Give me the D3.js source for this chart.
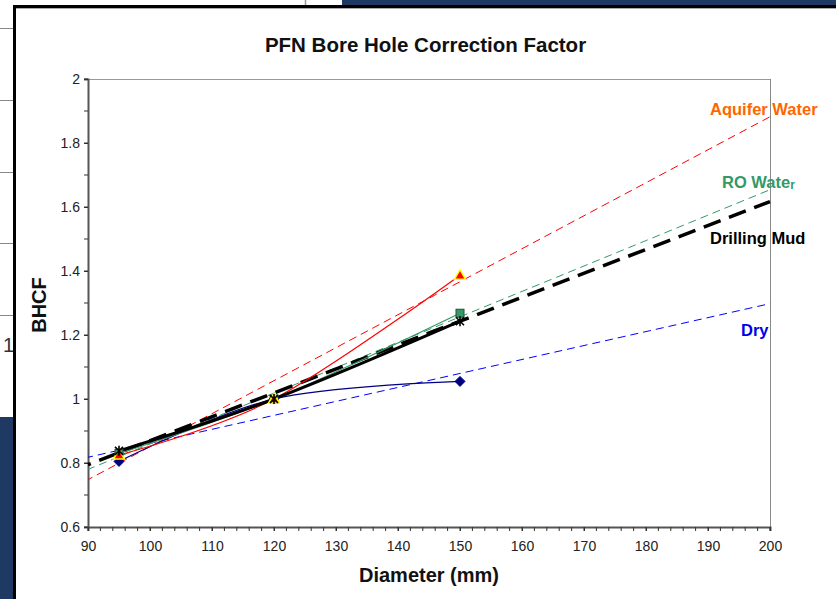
<!DOCTYPE html>
<html>
<head>
<meta charset="utf-8">
<script src="https://cdn.jsdelivr.net/npm/d3@7"></script>
<style>
html,body{margin:0;padding:0;background:#fff;}
svg{display:block;font-family:"Liberation Sans",Arial,sans-serif;}
</style>
</head>
<body>
<svg id="chart" width="836" height="599"></svg>
<script>
// ---- data ----
const diameters = [95, 120, 150];
const dryValues = [0.805, 1.0, 1.055];
const aquiferValues = [0.825, 1.0, 1.387];
const roValues = [0.83, 1.0, 1.268];
const mudValues = [0.838, 1.0, 1.243];
// trendline end points at trendX
const trendX = [90, 200];
const dryTrend = [0.818, 1.298];
const aquiferTrend = [0.748, 1.882];
const roTrend = [0.78, 1.654];
const mudTrend = [0.795, 1.617];
const xTicks = [90, 100, 110, 120, 130, 140, 150, 160, 170, 180, 190, 200];
const xTickLabels = ["90","100","110","120","130","140","150","160","170","180","190","200"];
const yTicks = [0.6, 0.8, 1.0, 1.2, 1.4, 1.6, 1.8, 2.0];
const yTickLabels = ["0.6","0.8","1","1.2","1.4","1.6","1.8","2"];
const seriesNames = ["Dry", "Aquifer Water", "RO Water", "Drilling Mud"];

const svg = d3.select("#chart");
const navy = "#1e3a62";

// ---- background slide decorations ----
svg.append("rect").attr("x",342).attr("y",0).attr("width",494).attr("height",6).attr("fill",navy);
svg.append("line").attr("x1",305.5).attr("x2",305.5).attr("y1",0).attr("y2",6).attr("stroke","#999").attr("stroke-width",1.5);
[28,100,172,243,315].forEach(y=>{
  svg.append("line").attr("x1",0).attr("x2",13).attr("y1",y+0.5).attr("y2",y+0.5).attr("stroke","#888").attr("stroke-width",1);
});
svg.append("text").attr("x",3).attr("y",352).attr("font-size",20).attr("fill","#333").text("1");
svg.append("rect").attr("x",0).attr("y",417).attr("width",14).attr("height",182).attr("fill",navy);
// frame
svg.append("rect").attr("x",13).attr("y",5).attr("width",823).attr("height",3).attr("fill","#000");
svg.append("rect").attr("x",13).attr("y",5).attr("width",3).attr("height",594).attr("fill","#000");
svg.append("line").attr("x1",16).attr("x2",836).attr("y1",8.5).attr("y2",8.5).attr("stroke","#aaa").attr("stroke-width",1);

// ---- scales ----
const x = d3.scaleLinear().domain([90, 200]).range([88, 770]);
const y = d3.scaleLinear().domain([0.6, 2]).range([527, 79]);

// plot frame top/right
svg.append("line").attr("x1",x(90)).attr("x2",x(200)).attr("y1",y(2)+0.5).attr("y2",y(2)+0.5).attr("stroke","#999").attr("stroke-width",1);
svg.append("line").attr("x1",x(200)+0.5).attr("x2",x(200)+0.5).attr("y1",y(2)).attr("y2",y(0.6)).attr("stroke","#888").attr("stroke-width",1);

// ---- axes ----
const minorY = d3.range(6, 21).map(v => v / 10);
const minorX = d3.range(90, 201, 2);
const gY = svg.append("g").attr("transform",`translate(${x(90)},0)`)
  .call(d3.axisLeft(y).tickValues(yTicks).tickSize(4).tickPadding(4)
    .tickFormat((d,i)=>yTickLabels[i]));
gY.append("g").selectAll("line").data(minorY).join("line")
  .attr("x1",-4).attr("x2",0).attr("y1",d=>y(d)).attr("y2",d=>y(d)).attr("stroke","#333");
const gX = svg.append("g").attr("transform",`translate(0,${y(0.6)})`)
  .call(d3.axisBottom(x).tickValues(xTicks).tickSize(4).tickPadding(10)
    .tickFormat((d,i)=>xTickLabels[i]));
gX.append("g").selectAll("line").data(minorX).join("line")
  .attr("x1",d=>x(d)).attr("x2",d=>x(d)).attr("y1",0).attr("y2",4).attr("stroke","#333");
[gX, gY].forEach(g=>{
  g.select(".domain").attr("stroke","#555").attr("stroke-width",2);
  g.selectAll(".tick line").attr("stroke","#333");
  g.selectAll(".tick text").attr("font-size",14).attr("fill","#222")
    .attr("font-family","Liberation Sans, Arial, sans-serif");
});

// ---- trendlines ----
const trendLine = d3.line().x(d=>x(d[0])).y(d=>y(d[1]));
function drawTrend(vals, color, w, dash, offset){
  svg.append("path").datum(trendX.map((v,i)=>[v, vals[i]]))
    .attr("d", trendLine).attr("fill","none").attr("stroke",color)
    .attr("stroke-width",w).attr("stroke-dasharray",dash)
    .attr("stroke-dashoffset",offset || 0);
}
drawTrend(dryTrend, "#0000ff", 1, "8,5", 3);
drawTrend(aquiferTrend, "#ff0000", 1, "8,5", 3);
drawTrend(roTrend, "#339966", 1, "8,5", 1);
drawTrend(mudTrend, "#000000", 3.5, "18,9", 15);

// ---- smoothed data lines ----
const smooth = d3.line().x(d=>x(d[0])).y(d=>y(d[1])).curve(d3.curveCardinal.tension(0));
function drawSeries(vals, color, w){
  svg.append("path").datum(diameters.map((v,i)=>[v, vals[i]]))
    .attr("d", smooth).attr("fill","none").attr("stroke",color).attr("stroke-width",w);
}
drawSeries(dryValues, "#000080", 1.2);
drawSeries(roValues, "#339966", 1.2);
drawSeries(aquiferValues, "#ff0000", 1.2);
drawSeries(mudValues, "#000000", 3);

// ---- markers ----
const pts = vals => diameters.map((v,i)=>[x(v), y(vals[i])]);
svg.append("g").selectAll("path").data(pts(dryValues)).join("path")
  .attr("d","M0,-5L5,0L0,5L-5,0Z").attr("transform",d=>`translate(${d[0]},${d[1]})`)
  .attr("fill","#000080").attr("stroke","#000080");
svg.append("g").selectAll("rect").data(pts(roValues)).join("rect")
  .attr("x",d=>d[0]-4).attr("y",d=>d[1]-4).attr("width",8).attr("height",8)
  .attr("fill","#339966").attr("stroke","#2a4a3a").attr("stroke-width",1);
svg.append("g").selectAll("path").data(pts(aquiferValues)).join("path")
  .attr("d","M0,-5.5L5.5,4L-5.5,4Z").attr("transform",d=>`translate(${d[0]},${d[1]})`)
  .attr("fill","#ff0000").attr("stroke","#ffff00").attr("stroke-width",1.5);
svg.append("g").selectAll("path").data(pts(mudValues)).join("path")
  .attr("d","M-4,-4L4,4M-4,4L4,-4M0,-5L0,5").attr("transform",d=>`translate(${d[0]},${d[1]})`)
  .attr("fill","none").attr("stroke","#000").attr("stroke-width",1.6);

// ---- texts ----
svg.append("text").attr("x",425.5).attr("y",52).attr("text-anchor","middle")
  .attr("font-size",20.5).attr("font-weight","bold").attr("fill","#111")
  .text("PFN Bore Hole Correction Factor");
svg.append("text").attr("x",429).attr("y",582).attr("text-anchor","middle")
  .attr("font-size",20).attr("font-weight","bold").attr("fill","#111")
  .text("Diameter (mm)");
svg.append("text").attr("transform","translate(46,305) rotate(-90)").attr("text-anchor","middle")
  .attr("font-size",20).attr("font-weight","bold").attr("fill","#111")
  .text("BHCF");

svg.append("text").attr("x",710).attr("y",115).attr("font-size",16.5).attr("font-weight","bold")
  .attr("fill","#ff6600").text(seriesNames[1]);
const ro = svg.append("text").attr("x",722).attr("y",188).attr("font-size",16.5).attr("font-weight","bold")
  .attr("fill","#339966");
ro.append("tspan").text("RO Wate");
ro.append("tspan").attr("font-size",12).attr("dy",1).text("r");
svg.append("text").attr("x",710).attr("y",244).attr("font-size",16.5).attr("font-weight","bold")
  .attr("fill","#000").text(seriesNames[3]);
svg.append("text").attr("x",741).attr("y",336).attr("font-size",16.5).attr("font-weight","bold")
  .attr("fill","#0000ee").text(seriesNames[0]);
</script>
</body>
</html>
